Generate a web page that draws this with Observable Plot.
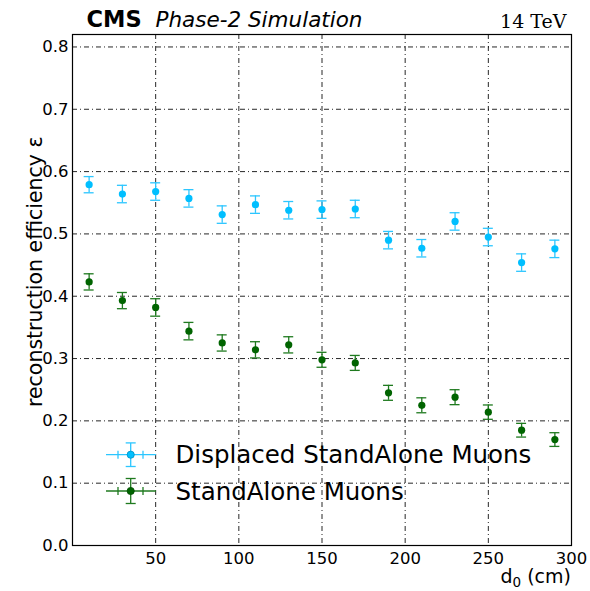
<!DOCTYPE html>
<html>
<head>
<meta charset="utf-8">
<script src="https://cdn.jsdelivr.net/npm/d3@7"></script>
<script src="https://cdn.jsdelivr.net/npm/@observablehq/plot@0.6"></script>
<style>
  html, body { margin: 0; padding: 0; background: #fff; }
  #wrap { position: relative; width: 590px; height: 591px; }
  #legend { position: absolute; left: 0; top: 0; pointer-events: none; }
</style>
</head>
<body>
<div id="wrap"></div>
<script>
// ---- data ----
const d0 = [10, 30, 50, 70, 90, 110, 130, 150, 170, 190, 210, 230, 250, 270, 290];
const displaced    = [0.579, 0.564, 0.568, 0.557, 0.531, 0.547, 0.538, 0.539, 0.540, 0.490, 0.477, 0.520, 0.495, 0.454, 0.476];
const displacedErr = [0.013, 0.014, 0.014, 0.014, 0.014, 0.014, 0.014, 0.014, 0.014, 0.014, 0.014, 0.014, 0.014, 0.014, 0.014];
const standalone    = [0.423, 0.393, 0.382, 0.344, 0.325, 0.314, 0.322, 0.298, 0.293, 0.245, 0.225, 0.238, 0.214, 0.185, 0.170];
const standaloneErr = [0.013, 0.013, 0.014, 0.014, 0.013, 0.013, 0.013, 0.012, 0.012, 0.012, 0.012, 0.012, 0.0115, 0.011, 0.011];
const seriesNames = ["Displaced StandAlone Muons", "StandAlone Muons"];
const xTicks = [50, 100, 150, 200, 250, 300];
const xGrid = [50, 100, 150, 200, 250];
const yTicks = [0, 0.1, 0.2, 0.3, 0.4, 0.5, 0.6, 0.7, 0.8];
const yGrid = [0.1, 0.2, 0.3, 0.4, 0.5, 0.6, 0.7, 0.8];

const blue = "#00bfff", blueErr = "#2cc6ff";
const green = "#006400", greenErr = "#1f7a1f";

const dispData = d0.map((x, i) => ({x, v: displaced[i], e: displacedErr[i]}));
const saData = d0.map((x, i) => ({x, v: standalone[i], e: standaloneErr[i]}));

const dash = "5,3,1,3";
const capHalf = 3; // in data units of x

function errMarks(data, col, ecol) {
  return [
    Plot.ruleX(data, {x: "x", y1: d => d.v - d.e, y2: d => d.v + d.e, stroke: ecol, strokeWidth: 1.3}),
    Plot.ruleY(data, {y: d => d.v - d.e, x1: d => d.x - capHalf, x2: d => d.x + capHalf, stroke: ecol, strokeWidth: 1.3}),
    Plot.ruleY(data, {y: d => d.v + d.e, x1: d => d.x - capHalf, x2: d => d.x + capHalf, stroke: ecol, strokeWidth: 1.3}),
    Plot.dot(data, {x: "x", y: "v", r: 3.6, fill: col, stroke: "none"})
  ];
}

const chart = Plot.plot({
  width: 590,
  height: 591,
  marginTop: 34,
  marginBottom: 46,
  marginLeft: 72,
  marginRight: 19,
  style: {fontFamily: "DejaVu Sans", fontSize: "16.5px", color: "black", background: "white"},
  x: {domain: [0, 300]},
  y: {domain: [0, 0.82]},
  marks: [
    Plot.gridX(xGrid, {stroke: "black", strokeOpacity: 0.85, strokeDasharray: dash, strokeWidth: 1}),
    Plot.gridY(yGrid, {stroke: "black", strokeOpacity: 0.85, strokeDasharray: dash, strokeWidth: 1}),
    Plot.axisX(xTicks, {tickSize: 0, tickPadding: 7, label: null, fontSize: 16.5}),
    Plot.axisY(yTicks, {tickSize: 0, tickPadding: 4, tickFormat: ".1f", label: null, fontSize: 16.5}),
    ...errMarks(dispData, blue, blueErr),
    ...errMarks(saData, green, greenErr),
    Plot.frame({stroke: "black", strokeWidth: 1.2}),
    // titles / labels
    Plot.text(["CMS"], {frameAnchor: "top-left", dx: 14, dy: -7.5, lineAnchor: "bottom", textAnchor: "start", fontWeight: "bold", fontSize: 22.5}),
    Plot.text(["Phase-2 Simulation"], {frameAnchor: "top-left", dx: 83, dy: -7.5, lineAnchor: "bottom", textAnchor: "start", fontStyle: "italic", fontSize: 21.5}),
    Plot.text(["14 TeV"], {frameAnchor: "top-right", dx: -5, dy: -7, lineAnchor: "bottom", textAnchor: "end", fontFamily: "DejaVu Serif", fontSize: 19}),
    Plot.text(["reconstruction efficiency ε"], {frameAnchor: "bottom-left", dx: -30.5, dy: -138.5, rotate: -90, lineAnchor: "bottom", textAnchor: "start", fontSize: 20.5})
  ]
});

const wrap = document.getElementById("wrap");
wrap.appendChild(chart);

// ---- legend + x label overlay ----
const ns = "http://www.w3.org/2000/svg";
const leg = document.createElementNS(ns, "svg");
leg.setAttribute("id", "legend");
leg.setAttribute("width", 590);
leg.setAttribute("height", 591);
const entries = [
  {name: seriesNames[0], col: blue, ecol: blueErr, cy: 454.7, base: 463.3, ve: 11.8},
  {name: seriesNames[1], col: green, ecol: greenErr, cy: 491, base: 500, ve: 12.5}
];
function el(tag, attrs, parent) {
  const e = document.createElementNS(ns, tag);
  for (const k in attrs) e.setAttribute(k, attrs[k]);
  (parent || leg).appendChild(e);
  return e;
}
for (const en of entries) {
  const cx = 130.7;
  el("line", {x1: 106, x2: 156, y1: en.cy, y2: en.cy, stroke: en.ecol, "stroke-width": 1.3});
  el("line", {x1: 118, x2: 118, y1: en.cy - 4, y2: en.cy + 4, stroke: en.ecol, "stroke-width": 1.3});
  el("line", {x1: 143, x2: 143, y1: en.cy - 4, y2: en.cy + 4, stroke: en.ecol, "stroke-width": 1.3});
  el("line", {x1: cx, x2: cx, y1: en.cy - en.ve, y2: en.cy + en.ve, stroke: en.ecol, "stroke-width": 1.3});
  el("line", {x1: cx - 5, x2: cx + 5, y1: en.cy - en.ve, y2: en.cy - en.ve, stroke: en.ecol, "stroke-width": 1.3});
  el("line", {x1: cx - 5, x2: cx + 5, y1: en.cy + en.ve, y2: en.cy + en.ve, stroke: en.ecol, "stroke-width": 1.3});
  el("circle", {cx, cy: en.cy, r: 3.6, fill: en.col, stroke: d3.color(en.col).darker(0.8), "stroke-width": 0.8});
  const t = el("text", {x: 175.5, y: en.base, "font-family": "DejaVu Sans", "font-size": "24.5px", fill: "black"});
  t.textContent = en.name;
}
// x axis label with real subscript
const xl = el("text", {x: 571, y: 583, "text-anchor": "end", "font-family": "DejaVu Sans", "font-size": "19px", fill: "black"});
const t1 = el("tspan", {}, xl); t1.textContent = "d";
const t2 = el("tspan", {dy: 3.5, "font-size": "13.5px"}, xl); t2.textContent = "0";
const t3 = el("tspan", {dy: -3.5}, xl); t3.textContent = "\u00a0(cm)";
wrap.appendChild(leg);
</script>
</body>
</html>
